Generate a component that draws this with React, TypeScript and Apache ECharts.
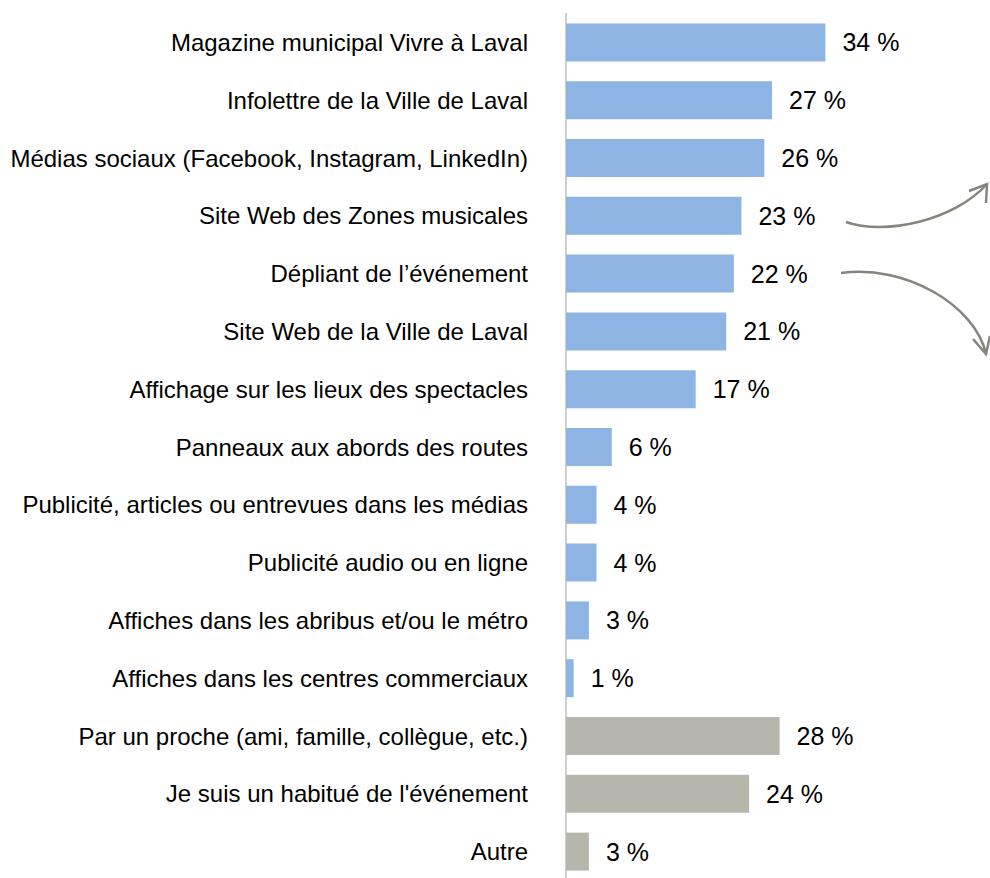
import React, { useEffect, useRef } from "react";
import * as echarts from "echarts";

const categories = [
  "Magazine municipal Vivre à Laval",
  "Infolettre de la Ville de Laval",
  "Médias sociaux (Facebook, Instagram, LinkedIn)",
  "Site Web des Zones musicales",
  "Dépliant de l’événement",
  "Site Web de la Ville de Laval",
  "Affichage sur les lieux des spectacles",
  "Panneaux aux abords des routes",
  "Publicité, articles ou entrevues dans les médias",
  "Publicité audio ou en ligne",
  "Affiches dans les abribus et/ou le métro",
  "Affiches dans les centres commerciaux",
  "Par un proche (ami, famille, collègue, etc.)",
  "Je suis un habitué de l'événement",
  "Autre",
];
const values = [34, 27, 26, 23, 22, 21, 17, 6, 4, 4, 3, 1, 28, 24, 3];
const isMedia = [true, true, true, true, true, true, true, true, true, true, true, true, false, false, false];

export default function App() {
  const ref = useRef<HTMLDivElement>(null);
  useEffect(() => {
    if (!ref.current) return;
    const chart = echarts.init(ref.current, null, { renderer: "svg" });
    const font = "'Liberation Sans', Arial, sans-serif";
    const arrowColor = "#85857E";
    chart.setOption({
      animation: false,
      grid: {
        left: 566,
        top: 13.5,
        width: 419.6,
        height: 867,
        containLabel: false,
        outerBoundsMode: "none",
      },
      xAxis: {
        type: "value",
        min: 0,
        max: 55,
        show: false,
      },
      yAxis: {
        type: "category",
        data: categories,
        inverse: true,
        axisLine: { show: true, lineStyle: { color: "#BFBFBF", width: 1.5 } },
        axisTick: { show: false },
        axisLabel: {
          color: "#000",
          fontSize: 24,
          fontFamily: font,
          margin: 38,
          padding: [4, 0, 0, 0],
        },
      },
      series: [
        {
          type: "bar",
          data: values.map((v, i) => ({
            value: v,
            itemStyle: { color: isMedia[i] ? "#8DB4E2" : "#B6B6AD" },
          })),
          barWidth: 38,
          label: {
            show: true,
            position: "right",
            distance: 17,
            formatter: "{c} %",
            color: "#000",
            fontSize: 25,
            fontFamily: font,
            padding: [4, 0, 0, 0],
          },
        },
      ],
      graphic: [
        {
          type: "bezierCurve",
          shape: { x1: 846, y1: 222, cpx1: 885, cpy1: 236, cpx2: 955, cpy2: 220, x2: 987, y2: 184 },
          style: { stroke: arrowColor, lineWidth: 2.5, fill: null },
        },
        {
          type: "polyline",
          shape: { points: [[969, 191], [987, 184], [986, 203]] },
          style: { stroke: arrowColor, lineWidth: 2.5, fill: null },
        },
        {
          type: "bezierCurve",
          shape: { x1: 841, y1: 273, cpx1: 905, cpy1: 264, cpx2: 975, cpy2: 305, x2: 986, y2: 354 },
          style: { stroke: arrowColor, lineWidth: 2.5, fill: null },
        },
        {
          type: "polyline",
          shape: { points: [[973, 339], [986, 354], [990, 336]] },
          style: { stroke: arrowColor, lineWidth: 2.5, fill: null },
        },
      ],
    });
    return () => chart.dispose();
  }, []);
  return (
    <div
      ref={ref}
      style={{ position: "fixed", left: 0, top: 0, width: 990, height: 878, background: "#fff" }}
    />
  );
}
